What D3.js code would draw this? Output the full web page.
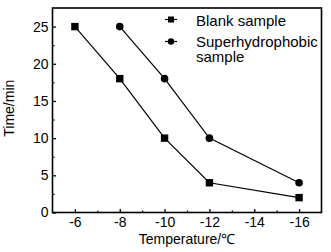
<!DOCTYPE html>
<html>
<head>
<meta charset="utf-8">
<script src="https://cdn.jsdelivr.net/npm/d3@7"></script>
<style>
  body { margin: 0; background: #fff; }
  text { font-family: "Liberation Sans", Arial, sans-serif; fill: #000; }
</style>
</head>
<body>
<div id="chart"></div>
<script>
// data
const blankTemps = [-6, -8, -10, -12, -16];
const blankTimes = [25, 18, 10, 4, 2];
const superTemps = [-8, -10, -12, -16];
const superTimes = [25, 18, 10, 4];
const xTicks = [-6, -8, -10, -12, -14, -16];
const yTicks = [0, 5, 10, 15, 20, 25];
const seriesNames = ["Blank sample", "Superhydrophobic", "sample"];

const margin = { top: 8, right: 9.5, bottom: 39.5, left: 52.5 },
    width = 331 - margin.left - margin.right,
    height = 252 - margin.top - margin.bottom;

const svg = d3.select("#chart")
  .append("svg")
    .attr("width", width + margin.left + margin.right)
    .attr("height", height + margin.top + margin.bottom)
  .append("g")
    .attr("transform", `translate(${margin.left},${margin.top})`);

// X axis (reversed temperatures)
const x = d3.scaleLinear()
  .domain([-5, -17])
  .range([0, width]);

// Y axis
const y = d3.scaleLinear()
  .domain([0, 27.5])
  .range([height, 0]);

// minor ticks
svg.append("g")
  .attr("transform", `translate(0, ${height})`)
  .call(d3.axisBottom(x).tickValues([-7, -9, -11, -13, -15]).tickSizeInner(-2).tickSizeOuter(0).tickFormat(""))
  .call(g => g.select(".domain").remove())
  .selectAll("line").attr("stroke-width", 1.2);
svg.append("g")
  .call(d3.axisLeft(y).tickValues([2.5, 7.5, 12.5, 17.5, 22.5]).tickSizeInner(-2).tickSizeOuter(0).tickFormat(""))
  .call(g => g.select(".domain").remove())
  .selectAll("line").attr("stroke-width", 1.2);

// major ticks
const xAxis = svg.append("g")
  .attr("transform", `translate(0, ${height})`)
  .call(d3.axisBottom(x).tickValues(xTicks).tickSizeInner(-3.5).tickSizeOuter(0).tickPadding(5).tickFormat(d => d));
xAxis.select(".domain").remove();
xAxis.selectAll("line").attr("stroke-width", 1.3);
xAxis.selectAll("text").style("font-size", "14px").attr("font-family", null);

const yAxis = svg.append("g")
  .call(d3.axisLeft(y).tickValues(yTicks).tickSizeInner(-3.5).tickSizeOuter(0).tickPadding(4));
yAxis.select(".domain").remove();
yAxis.selectAll("line").attr("stroke-width", 1.3);
yAxis.selectAll("text").style("font-size", "14px").attr("font-family", null);

// frame
svg.append("rect")
  .attr("x", 0).attr("y", 0)
  .attr("width", width).attr("height", height)
  .attr("fill", "none")
  .attr("stroke", "#000")
  .attr("stroke-width", 1.6);

// axis titles
svg.append("text")
  .attr("x", width / 2)
  .attr("y", height + 31)
  .attr("text-anchor", "middle")
  .style("font-size", "14px")
  .text("Temperature/\u2103");

svg.append("text")
  .attr("transform", `translate(${-39}, ${height / 2 - 2}) rotate(-90)`)
  .attr("text-anchor", "middle")
  .style("font-size", "14px")
  .text("Time/min");

// lines
const line = d3.line().x(d => x(d[0])).y(d => y(d[1]));
const blankData = blankTemps.map((t, i) => [t, blankTimes[i]]);
const superData = superTemps.map((t, i) => [t, superTimes[i]]);

svg.append("path")
  .datum(blankData)
  .attr("fill", "none").attr("stroke", "#000").attr("stroke-width", 1.2)
  .attr("d", line);
svg.append("path")
  .datum(superData)
  .attr("fill", "none").attr("stroke", "#000").attr("stroke-width", 1.2)
  .attr("d", line);

// markers
svg.selectAll("rect.sq")
  .data(blankData)
  .join("rect")
    .attr("class", "sq")
    .attr("x", d => x(d[0]) - 3.7)
    .attr("y", d => y(d[1]) - 3.7)
    .attr("width", 7.4).attr("height", 7.4)
    .attr("fill", "#000");
svg.selectAll("circle.ci")
  .data(superData)
  .join("circle")
    .attr("class", "ci")
    .attr("cx", d => x(d[0]))
    .attr("cy", d => y(d[1]))
    .attr("r", 3.8)
    .attr("fill", "#000");

// legend
const lg = svg.append("g").attr("transform", `translate(${165 - margin.left}, 0)`);
lg.append("line").attr("x1", 0).attr("x2", 12).attr("y1", 11.5).attr("y2", 11.5).attr("stroke", "#000").attr("stroke-width", 1.2);
lg.append("rect").attr("x", 3).attr("y", 8.5).attr("width", 6).attr("height", 6).attr("fill", "#000");
lg.append("text").attr("x", 31).attr("y", 17.5).style("font-size", "15px").text(seriesNames[0]);

lg.append("line").attr("x1", 0).attr("x2", 12).attr("y1", 33.5).attr("y2", 33.5).attr("stroke", "#000").attr("stroke-width", 1.2);
lg.append("circle").attr("cx", 6).attr("cy", 33.5).attr("r", 3.2).attr("fill", "#000");
lg.append("text").attr("x", 31).attr("y", 38.5).style("font-size", "15px").text(seriesNames[1]);
lg.append("text").attr("x", 31).attr("y", 54).style("font-size", "15px").text(seriesNames[2]);
</script>
</body>
</html>
